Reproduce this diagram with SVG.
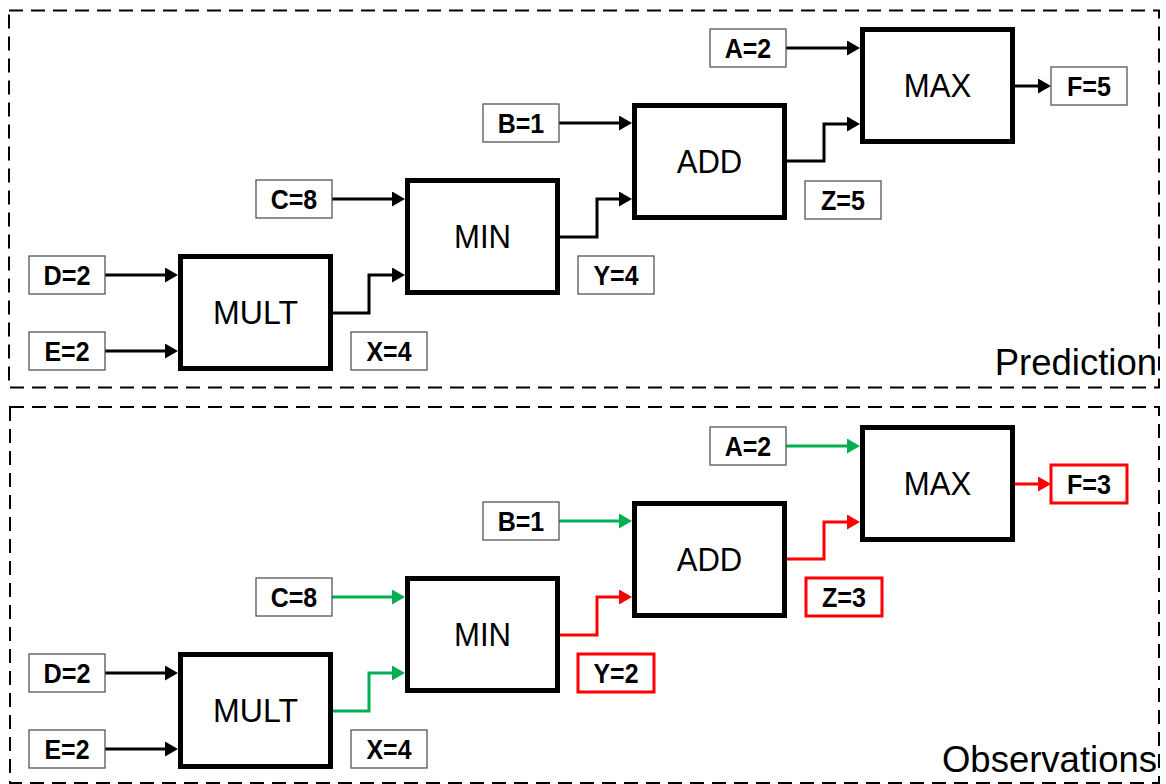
<svg xmlns="http://www.w3.org/2000/svg" width="1166" height="784" viewBox="0 0 1166 784">
<style>
.panel{fill:none;stroke:#000;stroke-width:2;stroke-dasharray:14 8}
.blk{fill:#fff;stroke:#000;stroke-width:5}
.blkt{font-family:"Liberation Sans",Arial,sans-serif;font-size:32.5px;text-anchor:middle;fill:#000}
.lbl{fill:#fff;stroke:#555;stroke-width:1.3}
.lblr{fill:#fff;stroke:#FF0000;stroke-width:3}
.lblt{font-family:"Liberation Sans",Arial,sans-serif;font-size:27px;font-weight:bold;text-anchor:middle;fill:#000}
.ttl{font-family:"Liberation Sans",Arial,sans-serif;font-size:36.5px;text-anchor:end;fill:#000}
.k{fill:none;stroke:#000;stroke-width:3;marker-end:url(#ak)}
.g{fill:none;stroke:#00B050;stroke-width:3;marker-end:url(#ag)}
.r{fill:none;stroke:#FF0000;stroke-width:3;marker-end:url(#ar)}
</style>
<defs>
<marker id="ak" markerUnits="userSpaceOnUse" markerWidth="14" markerHeight="15" refX="0" refY="7.5" orient="auto"><path d="M0,0 L13,7.5 L0,15 z" fill="#000"/></marker>
<marker id="ag" markerUnits="userSpaceOnUse" markerWidth="14" markerHeight="15" refX="0" refY="7.5" orient="auto"><path d="M0,0 L13,7.5 L0,15 z" fill="#00B050"/></marker>
<marker id="ar" markerUnits="userSpaceOnUse" markerWidth="14" markerHeight="15" refX="0" refY="7.5" orient="auto"><path d="M0,0 L13,7.5 L0,15 z" fill="#FF0000"/></marker>
</defs>
<rect width="1166" height="784" fill="#fff"/>

<g id="panel-prediction">
<rect class="panel" x="9" y="10.5" width="1150" height="377"/>
<text class="ttl" x="1157" y="375">Prediction</text>
</g>
<g id="panel-observations">
<rect class="panel" x="10" y="407" width="1149" height="376"/>
<text class="ttl" x="1157" y="772">Observations</text>
</g>

<g id="connectors-prediction">
<path class="k" d="M105,275 H165"/>
<path class="k" d="M105,351 H165"/>
<path class="k" d="M332,199 H392"/>
<path class="k" d="M559,123 H619"/>
<path class="k" d="M786,48 H847"/>
<path class="k" d="M333,313 H369 V275 H392"/>
<path class="k" d="M560,237 H597 V199 H619"/>
<path class="k" d="M787,161 H824 V124 H847"/>
<path class="k" d="M1015,86 H1038"/>
</g>
<g id="connectors-observations">
<path class="k" d="M105,673 H165"/>
<path class="k" d="M105,749 H165"/>
<path class="g" d="M332,597 H392"/>
<path class="g" d="M559,521 H619"/>
<path class="g" d="M786,446 H847"/>
<path class="g" d="M333,711 H369 V673 H392"/>
<path class="r" d="M560,635 H597 V597 H619"/>
<path class="r" d="M787,559 H824 V522 H847"/>
<path class="r" d="M1015,484 H1038"/>
</g>

<!-- Prediction nodes -->
<g id="p-mult"><rect class="blk" x="180.5" y="256.5" width="150" height="112"/><text class="blkt" x="255.5" y="324" textLength="85" lengthAdjust="spacingAndGlyphs">MULT</text></g>
<g id="p-min"><rect class="blk" x="407.5" y="180.5" width="150" height="112"/><text class="blkt" x="482.5" y="248" textLength="57" lengthAdjust="spacingAndGlyphs">MIN</text></g>
<g id="p-add"><rect class="blk" x="634.5" y="105.5" width="150" height="112"/><text class="blkt" x="709.5" y="173" textLength="65.5" lengthAdjust="spacingAndGlyphs">ADD</text></g>
<g id="p-max"><rect class="blk" x="862.5" y="29.5" width="150" height="112"/><text class="blkt" x="937.5" y="97" textLength="67.5" lengthAdjust="spacingAndGlyphs">MAX</text></g>
<g id="p-d"><rect class="lbl" x="29" y="256" width="76" height="38"/><text class="lblt" x="67" y="284.7" textLength="47" lengthAdjust="spacingAndGlyphs">D=2</text></g>
<g id="p-e"><rect class="lbl" x="29" y="332" width="76" height="38"/><text class="lblt" x="67" y="360.7" textLength="45" lengthAdjust="spacingAndGlyphs">E=2</text></g>
<g id="p-c"><rect class="lbl" x="256" y="180" width="76" height="38"/><text class="lblt" x="294" y="208.7" textLength="46.5" lengthAdjust="spacingAndGlyphs">C=8</text></g>
<g id="p-x"><rect class="lbl" x="351" y="332" width="76" height="38"/><text class="lblt" x="389" y="360.7" textLength="45" lengthAdjust="spacingAndGlyphs">X=4</text></g>
<g id="p-b"><rect class="lbl" x="483" y="104" width="76" height="38"/><text class="lblt" x="521" y="132.7" textLength="46.5" lengthAdjust="spacingAndGlyphs">B=1</text></g>
<g id="p-y"><rect class="lbl" x="578" y="256" width="76" height="38"/><text class="lblt" x="616" y="284.7" textLength="45" lengthAdjust="spacingAndGlyphs">Y=4</text></g>
<g id="p-a"><rect class="lbl" x="710" y="29" width="76" height="38"/><text class="lblt" x="748" y="57.7" textLength="46.5" lengthAdjust="spacingAndGlyphs">A=2</text></g>
<g id="p-z"><rect class="lbl" x="805" y="181" width="76" height="38"/><text class="lblt" x="843" y="209.7" textLength="44" lengthAdjust="spacingAndGlyphs">Z=5</text></g>
<g id="p-f"><rect class="lbl" x="1051" y="67" width="76" height="38"/><text class="lblt" x="1089" y="95.7" textLength="44" lengthAdjust="spacingAndGlyphs">F=5</text></g>

<!-- Observation nodes -->
<g id="o-mult"><rect class="blk" x="180.5" y="654.5" width="150" height="112"/><text class="blkt" x="255.5" y="722" textLength="85" lengthAdjust="spacingAndGlyphs">MULT</text></g>
<g id="o-min"><rect class="blk" x="407.5" y="578.5" width="150" height="112"/><text class="blkt" x="482.5" y="646" textLength="57" lengthAdjust="spacingAndGlyphs">MIN</text></g>
<g id="o-add"><rect class="blk" x="634.5" y="503.5" width="150" height="112"/><text class="blkt" x="709.5" y="571" textLength="65.5" lengthAdjust="spacingAndGlyphs">ADD</text></g>
<g id="o-max"><rect class="blk" x="862.5" y="427.5" width="150" height="112"/><text class="blkt" x="937.5" y="495" textLength="67.5" lengthAdjust="spacingAndGlyphs">MAX</text></g>
<g id="o-d"><rect class="lbl" x="29" y="654" width="76" height="38"/><text class="lblt" x="67" y="682.7" textLength="47" lengthAdjust="spacingAndGlyphs">D=2</text></g>
<g id="o-e"><rect class="lbl" x="29" y="730" width="76" height="38"/><text class="lblt" x="67" y="758.7" textLength="45" lengthAdjust="spacingAndGlyphs">E=2</text></g>
<g id="o-c"><rect class="lbl" x="256" y="578" width="76" height="38"/><text class="lblt" x="294" y="606.7" textLength="46.5" lengthAdjust="spacingAndGlyphs">C=8</text></g>
<g id="o-x"><rect class="lbl" x="351" y="730" width="76" height="38"/><text class="lblt" x="389" y="758.7" textLength="45" lengthAdjust="spacingAndGlyphs">X=4</text></g>
<g id="o-b"><rect class="lbl" x="483" y="502" width="76" height="38"/><text class="lblt" x="521" y="530.7" textLength="46.5" lengthAdjust="spacingAndGlyphs">B=1</text></g>
<g id="o-y"><rect class="lblr" x="578" y="654" width="76" height="38"/><text class="lblt" x="616" y="682.7" textLength="45" lengthAdjust="spacingAndGlyphs">Y=2</text></g>
<g id="o-a"><rect class="lbl" x="710" y="427" width="76" height="38"/><text class="lblt" x="748" y="455.7" textLength="46.5" lengthAdjust="spacingAndGlyphs">A=2</text></g>
<g id="o-z"><rect class="lblr" x="806" y="578" width="76" height="38"/><text class="lblt" x="844" y="606.7" textLength="44" lengthAdjust="spacingAndGlyphs">Z=3</text></g>
<g id="o-f"><rect class="lblr" x="1051" y="465" width="76" height="38"/><text class="lblt" x="1089" y="493.7" textLength="44" lengthAdjust="spacingAndGlyphs">F=3</text></g>
</svg>
